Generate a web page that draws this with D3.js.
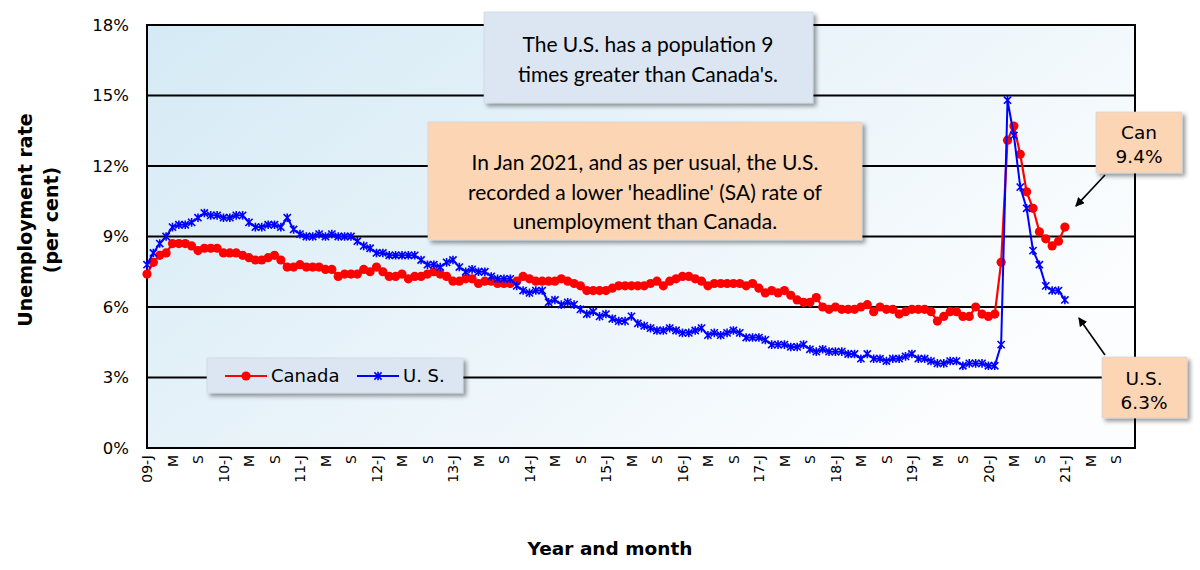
<!DOCTYPE html>
<html><head><meta charset="utf-8">
<script src="https://cdn.jsdelivr.net/npm/d3@7"></script>
<style>
html,body{margin:0;padding:0;background:#fff;}
svg{display:block;}
</style></head>
<body>
<svg id="chart" width="1200" height="570"></svg>
<script>
// ---------------- DATA ----------------
const startMonth = "2009-01";
const canada = [
  7.4, 7.9, 8.2, 8.3, 8.7, 8.7, 8.7, 8.6, 8.4, 8.5, 8.5, 8.5,
  8.3, 8.3, 8.3, 8.2, 8.1, 8.0, 8.0, 8.1, 8.2, 8.0, 7.7, 7.7,
  7.8, 7.7, 7.7, 7.7, 7.6, 7.6, 7.3, 7.4, 7.4, 7.4, 7.6, 7.5,
  7.7, 7.5, 7.3, 7.3, 7.4, 7.2, 7.3, 7.3, 7.4, 7.5, 7.4, 7.3,
  7.1, 7.1, 7.2, 7.2, 7.0, 7.1, 7.1, 7.0, 7.0, 7.0, 7.1, 7.3,
  7.2, 7.1, 7.1, 7.1, 7.1, 7.2, 7.1, 7.0, 6.9, 6.7, 6.7, 6.7,
  6.7, 6.8, 6.9, 6.9, 6.9, 6.9, 6.9, 7.0, 7.1, 6.9, 7.1, 7.2,
  7.3, 7.3, 7.2, 7.1, 6.9, 7.0, 7.0, 7.0, 7.0, 7.0, 6.9, 7.0,
  6.8, 6.6, 6.7, 6.6, 6.7, 6.5, 6.3, 6.2, 6.2, 6.4, 6.0, 5.9,
  6.0, 5.9, 5.9, 5.9, 6.0, 6.1, 5.8, 6.0, 5.9, 5.9, 5.7, 5.8,
  5.9, 5.9, 5.9, 5.8, 5.4, 5.6, 5.8, 5.8, 5.6, 5.6, 6.0, 5.7,
  5.6, 5.7, 7.9, 13.1, 13.7, 12.5, 10.9, 10.2, 9.2, 8.9, 8.6, 8.8,
  9.4
];
const us = [
  7.8, 8.3, 8.7, 9.0, 9.4, 9.5, 9.5, 9.6, 9.8, 10.0, 9.9, 9.9,
  9.8, 9.8, 9.9, 9.9, 9.6, 9.4, 9.4, 9.5, 9.5, 9.4, 9.8, 9.3,
  9.1, 9.0, 9.0, 9.1, 9.0, 9.1, 9.0, 9.0, 9.0, 8.8, 8.6, 8.5,
  8.3, 8.3, 8.2, 8.2, 8.2, 8.2, 8.2, 8.0, 7.8, 7.8, 7.7, 7.9,
  8.0, 7.7, 7.5, 7.6, 7.5, 7.5, 7.3, 7.2, 7.2, 7.2, 6.9, 6.7,
  6.6, 6.7, 6.7, 6.2, 6.3, 6.1, 6.2, 6.1, 5.9, 5.7, 5.8, 5.6,
  5.7, 5.5, 5.4, 5.4, 5.6, 5.3, 5.2, 5.1, 5.0, 5.0, 5.1, 5.0,
  4.9, 4.9, 5.0, 5.1, 4.8, 4.9, 4.8, 4.9, 5.0, 4.9, 4.7, 4.7,
  4.7, 4.6, 4.4, 4.4, 4.4, 4.3, 4.3, 4.4, 4.2, 4.1, 4.2, 4.1,
  4.1, 4.1, 4.0, 4.0, 3.8, 4.0, 3.8, 3.8, 3.7, 3.8, 3.8, 3.9,
  4.0, 3.8, 3.8, 3.7, 3.6, 3.6, 3.7, 3.7, 3.5, 3.6, 3.6, 3.6,
  3.5, 3.5, 4.4, 14.8, 13.3, 11.1, 10.2, 8.4, 7.8, 6.9, 6.7, 6.7,
  6.3
];
const xTickLabels = [
  "09-J","M","S","10-J","M","S","11-J","M","S","12-J","M","S",
  "13-J","M","S","14-J","M","S","15-J","M","S","16-J","M","S",
  "17-J","M","S","18-J","M","S","19-J","M","S","20-J","M","S",
  "21-J","M","S"
];
const xTickStep = 4;        // months between labels
const axisMonths = 155;     // Jan 2009 .. Dec 2021
const yTicks = [0, 3, 6, 9, 12, 15, 18];
const yTickLabels = ["0%","3%","6%","9%","12%","15%","18%"];
const seriesNames = ["Canada", "U. S."];
const noteTop = ["The U.S. has a population 9", "times greater than Canada's."];
const noteMid = ["In Jan 2021, and as per usual, the U.S.", "recorded a lower 'headline' (SA) rate of", "unemployment than Canada."];
const noteCan = ["Can", "9.4%"];
const noteUS = ["U.S.", "6.3%"];

// ---------------- LAYOUT ----------------
const svg = d3.select("#chart");
const L = 147, R = 1135, T = 25, B = 448;
const x = d3.scaleLinear().domain([0, axisMonths]).range([L, R]);
const y = d3.scaleLinear().domain([0, 18]).range([B, T]);
const RED = "#ff0000", BLUE = "#0000ff";
const tickFont = "'DejaVu Sans', Verdana, sans-serif";
const noteFont = "Lato, 'Open Sans', sans-serif";

const defs = svg.append("defs");
const grad = defs.append("linearGradient").attr("id","bg")
  .attr("x1","0").attr("y1","0").attr("x2","1").attr("y2","0.55");
grad.append("stop").attr("offset","0").attr("stop-color","#d5eaf5");
grad.append("stop").attr("offset","0.45").attr("stop-color","#e6f2f9");
grad.append("stop").attr("offset","1").attr("stop-color","#fbfdfe");
const sh = defs.append("filter").attr("id","shadow")
  .attr("x","-10%").attr("y","-10%").attr("width","130%").attr("height","140%");
sh.append("feDropShadow").attr("dx",3).attr("dy",3).attr("stdDeviation",2)
  .attr("flood-color","#000").attr("flood-opacity",0.4);
defs.append("marker").attr("id","arrow").attr("viewBox","0 0 10 10")
  .attr("refX",9).attr("refY",5).attr("markerWidth",9).attr("markerHeight",9)
  .attr("markerUnits","userSpaceOnUse").attr("orient","auto")
  .append("path").attr("d","M0,0 L10,5 L0,10 Z").attr("fill","#000");

// plot background
svg.append("rect").attr("x",L).attr("y",T).attr("width",R-L).attr("height",B-T)
  .attr("fill","url(#bg)");

// gridlines
svg.append("g").selectAll("line").data(yTicks.filter(v => v > 0 && v < 18)).join("line")
  .attr("x1",L).attr("x2",R).attr("y1",d=>y(d)).attr("y2",d=>y(d))
  .attr("stroke","#000").attr("stroke-width",2);

// frame
svg.append("rect").attr("x",L).attr("y",T).attr("width",R-L).attr("height",B-T)
  .attr("fill","none").attr("stroke","#000").attr("stroke-width",2);

// y axis labels
const yAxis = d3.axisLeft(y).tickValues(yTicks).tickFormat((d,i)=>yTickLabels[i]).tickSize(0).tickPadding(18);
const ga = svg.append("g").attr("transform",`translate(${L},0)`).call(yAxis);
ga.select(".domain").remove();
ga.selectAll("text").attr("font-family",tickFont).attr("font-size",16.5).attr("fill","#000");

// x axis labels
const xTickVals = xTickLabels.map((d,i)=>i*xTickStep);
const xAxis = d3.axisBottom(x).tickValues(xTickVals).tickFormat((d,i)=>xTickLabels[i]).tickSize(0);
const gx = svg.append("g").attr("transform",`translate(0,${B})`).call(xAxis);
gx.select(".domain").remove();
gx.selectAll("text").attr("font-family",tickFont).attr("font-size",14).attr("fill","#000")
  .attr("transform","rotate(-90)").attr("text-anchor","end")
  .attr("x",-7).attr("y",0).attr("dy","0.35em");

// axis titles
svg.append("text").attr("transform","translate(38,220) rotate(-90)")
  .attr("text-anchor","middle").attr("font-family",tickFont).attr("font-weight","bold")
  .attr("font-size",19)
  .selectAll("tspan").data(["Unemployment rate","(per cent)"]).join("tspan")
  .attr("x",0).attr("dy",(d,i)=> i===0 ? "-0.3em" : "1.35em").text(d=>d);
svg.append("text").attr("x",610).attr("y",555).attr("text-anchor","middle")
  .attr("font-family",tickFont).attr("font-weight","bold").attr("font-size",18.5)
  .text("Year and month");

// series
const line = d3.line().x((d,i)=>x(i)).y(d=>y(d));
svg.append("path").datum(canada).attr("d",line).attr("fill","none")
  .attr("stroke",RED).attr("stroke-width",2.2);
svg.append("g").selectAll("circle").data(canada).join("circle")
  .attr("cx",(d,i)=>x(i)).attr("cy",d=>y(d)).attr("r",4.6).attr("fill",RED);

const star = s => `M${-s},${-s}L${s},${s}M${-s},${s}L${s},${-s}M0,${-s*1.2}L0,${s*1.2}`;
svg.append("path").datum(us).attr("d",line).attr("fill","none")
  .attr("stroke",BLUE).attr("stroke-width",2);
svg.append("g").selectAll("path").data(us).join("path")
  .attr("transform",(d,i)=>`translate(${x(i)},${y(d)})`)
  .attr("d",star(3.6)).attr("stroke",BLUE).attr("stroke-width",1.6).attr("fill","none");

// note boxes
function noteBox(x0,y0,w,h,fill,lines,font,size,cx,baselines){
  svg.append("rect").attr("x",x0).attr("y",y0).attr("width",w).attr("height",h)
    .attr("fill",fill).attr("stroke","#c9d3de").attr("stroke-width",0.6)
    .attr("filter","url(#shadow)");
  svg.append("g").selectAll("text").data(lines).join("text")
    .attr("x",cx).attr("y",(d,i)=>baselines[i]).attr("text-anchor","middle")
    .attr("font-family",font).attr("font-size",size).attr("fill","#000").text(d=>d);
}
noteBox(484,12,329,91,"#dce6f2",noteTop,noteFont,21,648,[52,82]);
noteBox(428,122,434,118,"#fcd5b5",noteMid,noteFont,21,645,[170,200,229]);
noteBox(1096,112,86,61,"#fcd5b5",noteCan,tickFont,18.5,1139,[139,163]);
noteBox(1102,357,85,61,"#fcd5b5",noteUS,tickFont,18.5,1144,[385,409]);

// arrows
svg.append("line").attr("x1",1105).attr("y1",175).attr("x2",x(144)+11).attr("y2",y(canada[144])-21)
  .attr("stroke","#000").attr("stroke-width",1.6).attr("marker-end","url(#arrow)");
svg.append("line").attr("x1",1105).attr("y1",355).attr("x2",x(144)+14).attr("y2",y(us[144])+18)
  .attr("stroke","#000").attr("stroke-width",1.6).attr("marker-end","url(#arrow)");

// legend
const lg = svg.append("g");
lg.append("rect").attr("x",207).attr("y",358).attr("width",256).attr("height",35)
  .attr("fill","#dce6f2").attr("stroke","#c9d3de").attr("stroke-width",0.6).attr("filter","url(#shadow)");
lg.append("line").attr("x1",225).attr("x2",267).attr("y1",376).attr("y2",376).attr("stroke",RED).attr("stroke-width",2.2);
lg.append("circle").attr("cx",246).attr("cy",376).attr("r",4.6).attr("fill",RED);
lg.append("text").attr("x",271).attr("y",382).attr("font-family",tickFont).attr("font-size",18).text(seriesNames[0]);
lg.append("line").attr("x1",357).attr("x2",399).attr("y1",376).attr("y2",376).attr("stroke",BLUE).attr("stroke-width",2);
lg.append("path").attr("transform","translate(378,376)").attr("d",star(3.6)).attr("stroke",BLUE).attr("stroke-width",1.6);
lg.append("text").attr("x",403).attr("y",382).attr("font-family",tickFont).attr("font-size",18).text(seriesNames[1]);
</script>
</body></html>
